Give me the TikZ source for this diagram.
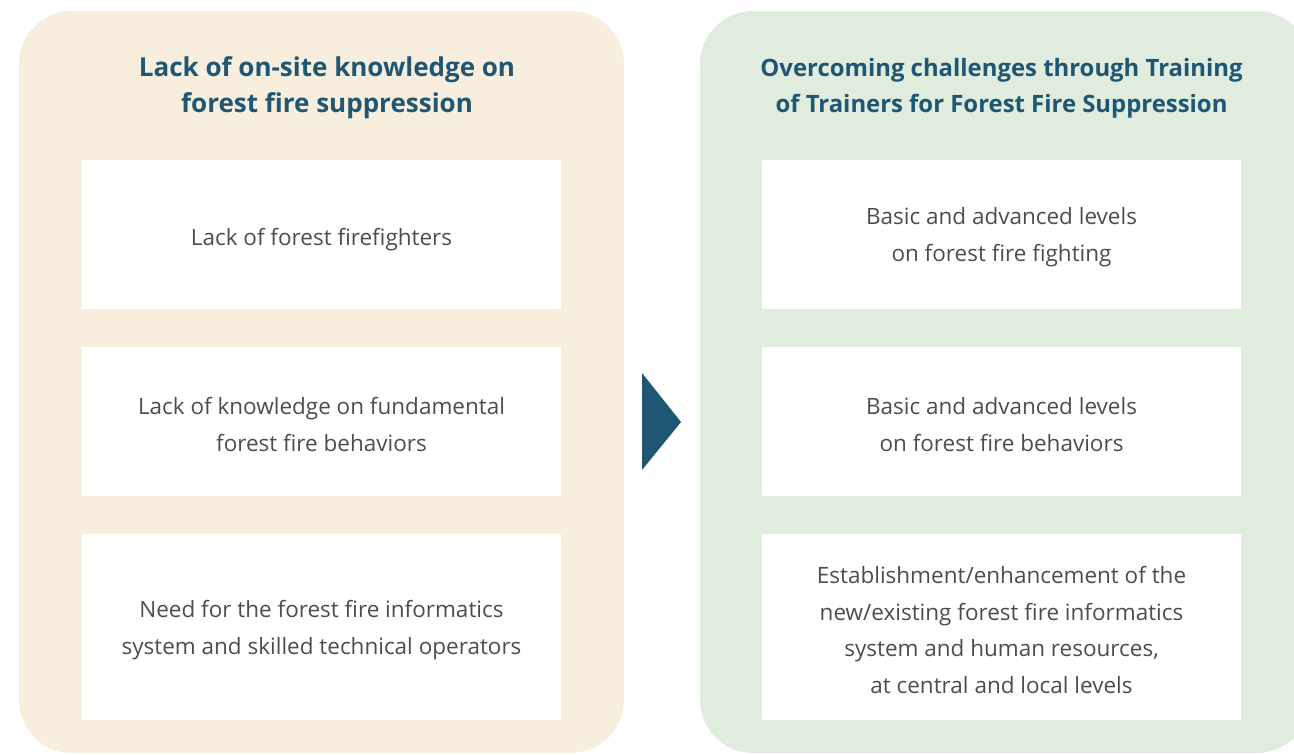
\documentclass[tikz,border=0pt]{standalone}
\usepackage{fontspec}
\setmainfont{Open Sans}
\definecolor{sand}{HTML}{F7EEDD}
\definecolor{sage}{HTML}{DFECDE}
\definecolor{navy}{HTML}{1F5673}
\definecolor{ink}{HTML}{4D4D4D}
\begin{document}
\begin{tikzpicture}[x=0.02cm,y=-0.02cm,
    panel/.style={rounded corners=1.06cm},
    card/.style={fill=white,minimum width=9.58cm,inner sep=0pt},
    cardtext/.style={align=center,text=ink,yshift=-0.06cm,font=\fontsize{12.8}{21}\selectfont},
    heading/.style={align=center,text=navy,font=\fontsize{14.8}{20.5}\selectfont\bfseries}]
  \useasboundingbox (0,0) rectangle (1294,754);
  % two background panels
  \fill[sand,panel] (19,11) rectangle (624,753);
  \fill[sage,panel] (700,11) rectangle (1310,753);
  % white cards
  \node[card,minimum height=2.98cm] (p1) at (321.5,234.5) {};
  \node[card,minimum height=2.98cm] (p2) at (321.5,421.5) {};
  \node[card,minimum height=3.72cm] (p3) at (321.5,627) {};
  \node[card,minimum height=2.98cm] (s1) at (1001.5,234.5) {};
  \node[card,minimum height=2.98cm] (s2) at (1001.5,421.5) {};
  \node[card,minimum height=3.72cm] (s3) at (1001.5,627) {};
  % problems
  \node[heading] (probs) at (327,88) {Lack of on-site knowledge on\\forest fire suppression};
  \node[cardtext,yshift=-0.04cm] at (p1) {Lack of forest firefighters};
  \node[cardtext] at (p2) {Lack of knowledge on fundamental\\forest fire behaviors};
  \node[cardtext] at (p3) {Need for the forest fire informatics\\system and skilled technical operators};
  % solutions
  \node[heading,font=\fontsize{13.6}{20.5}\selectfont\bfseries] (sols) at (1001.5,88) {Overcoming challenges through Training\\of Trainers for Forest Fire Suppression};
  \node[cardtext] at (s1) {Basic and advanced levels\\on forest fire fighting};
  \node[cardtext] at (s2) {Basic and advanced levels\\on forest fire behaviors};
  \node[cardtext] at (s3) {Establishment/enhancement of the\\new/existing forest fire informatics\\system and human resources,\\at central and local levels};
  % arrow between the panels
  \fill[navy] (642,373) -- (681,422) -- (642,470) -- cycle;
\end{tikzpicture}
\end{document}
